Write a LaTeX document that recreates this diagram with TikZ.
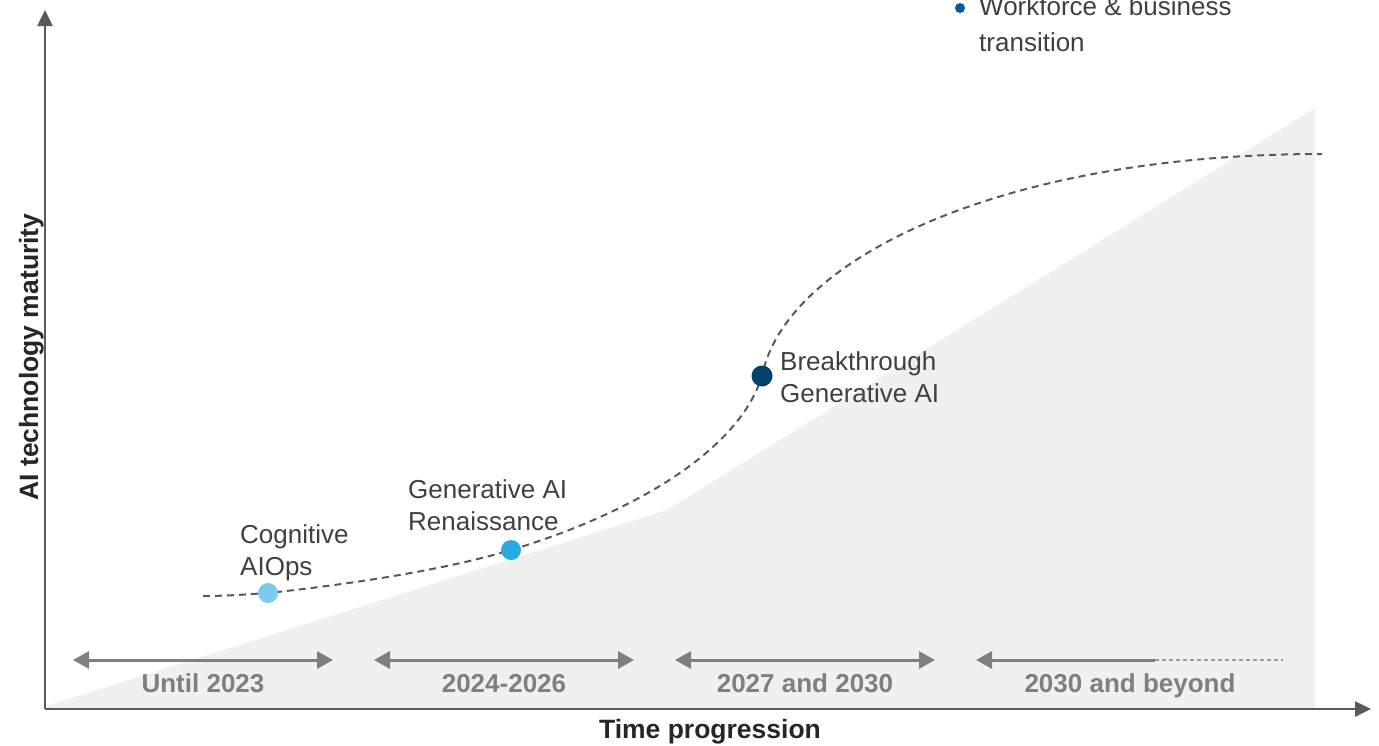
\documentclass[tikz,border=0pt]{standalone}
\usepackage{fontspec}
\setmainfont{Liberation Sans}
\usetikzlibrary{arrows.meta}
\definecolor{axisgray}{HTML}{595959}
\definecolor{spangray}{HTML}{7F7F7F}
\definecolor{areagray}{HTML}{F0F0F0}
\definecolor{textgray}{HTML}{404040}
\definecolor{cogblue}{HTML}{7DCAEF}
\definecolor{genblue}{HTML}{29A9E1}
\definecolor{breaknavy}{HTML}{00426B}
\definecolor{bulletblue}{HTML}{005B96}

\begin{document}
\begin{tikzpicture}
  [x=1pt,y=-1pt,
    every node/.style={inner sep=0pt},
    axis/.style={draw=axisgray,line width=2.5pt,-{Triangle[length=16pt,width=15pt]}},
    span/.style={draw=spangray,line width=3pt},
    spanlabel/.style={text=spangray,font=\fontsize{26}{32}\selectfont\bfseries,anchor=base},
    axislabel/.style={text=black!85,font=\fontsize{26.5}{32}\selectfont\bfseries,anchor=base},
    milestone/.style={circle,minimum size=20pt},
    caption/.style={text=textgray,font=\fontsize{26}{32}\selectfont,align=left,anchor=base west},
  ]
  \useasboundingbox (0,0) rectangle (1379,745);
  \fill[areagray] (40,708) -- (667,510) -- (1315,108) -- (1315,708) -- cycle;

  \coordinate (origin) at (45,709);
  \coordinate (ytop) at (45,10);
  \coordinate (xend) at (1371,709);
  \draw[axis] (origin) -- (ytop);
  \draw[axis] (origin) -- (xend);
  \node[axislabel] (xlabel) at (710,738) {Time progression};
  \node[axislabel,rotate=90] (ylabel) at (38,357) {AI technology maturity};

  \coordinate (s1l) at (73,660);
  \coordinate (s1r) at (333,660);
  \coordinate (s2l) at (374,660);
  \coordinate (s2r) at (634,660);
  \coordinate (s3l) at (675,660);
  \coordinate (s3r) at (935,660);
  \coordinate (s4l) at (976,660);
  \coordinate (s4m) at (1155,660);
  \coordinate (s4r) at (1283,660);
  \draw[span,{Triangle[length=16pt,width=17pt]}-{Triangle[length=16pt,width=17pt]}] (s1l) -- (s1r);
  \draw[span,{Triangle[length=16pt,width=17pt]}-{Triangle[length=16pt,width=17pt]}] (s2l) -- (s2r);
  \draw[span,{Triangle[length=16pt,width=17pt]}-{Triangle[length=16pt,width=17pt]}] (s3l) -- (s3r);
  \draw[span,-{Triangle[length=16pt,width=17pt]}] (s4m) -- (s4l);
  \draw[draw=spangray!80,line width=1.5pt,dash pattern=on 4pt off 3pt] (s4m) -- (s4r);
  \node[spanlabel] (until) at (203,692) {Until 2023};
  \node[spanlabel] (near) at (504,692) {2024-2026};
  \node[spanlabel] (mid) at (805,692) {2027 and 2030};
  \node[spanlabel] (beyond) at (1130,692) {2030 and beyond};

  \coordinate (start) at (203,596);
  \coordinate (cog) at (268,593);
  \coordinate (gen) at (511,550);
  \coordinate (brk) at (762,376);
  \coordinate (finish) at (1322,154);
  \draw[axisgray,line width=2pt,dash pattern=on 7pt off 5pt]
    (start) .. controls (225,596) and (245,594.5) .. (cog)
    .. controls (343,585) and (441,571) .. (gen)
    .. controls (621,517) and (737,456) .. (brk)
    .. controls (785,260) and (1000,154) .. (finish);
  \node[milestone,fill=cogblue] (cogdot) at (cog) {};
  \node[milestone,fill=genblue] (gendot) at (gen) {};
  \node[milestone,fill=breaknavy,minimum size=21pt] (brkdot) at (brk) {};
  \node[caption] (coglabel) at (240,575) {Cognitive\\AIOps};
  \node[caption] (genlabel) at (408,530) {Generative AI\\Renaissance};
  \node[caption] (brklabel) at (780,402) {Breakthrough\\Generative AI};

  \node[circle,fill=bulletblue,minimum size=10pt] (bullet) at (960,8) {};
  \node[caption,font=\fontsize{26}{36}\selectfont] (worklabel) at (979,51) {Workforce \& business\\transition};
\end{tikzpicture}
\end{document}
